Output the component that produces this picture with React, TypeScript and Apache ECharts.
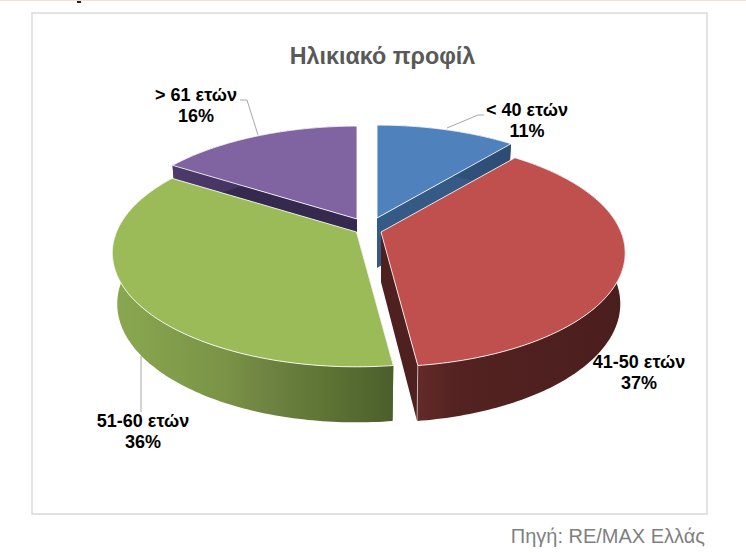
import React, { useEffect, useRef } from "react";
import * as echarts from "echarts";

const titleText = "Ηλικιακό προφίλ";
const sourceText = "Πηγή: RE/MAX Ελλάς";
const categories = ["< 40 ετών", "41-50 ετών", "51-60 ετών", "> 61 ετών"];
const shares = [11, 37, 36, 16];

// Appearance and layout of each slice, in slice order
const topColors = ["#4f81bd", "#c0504d", "#9bbb59", "#8064a2"];
const faceColors = ["#355a86", "#4e201f", "#5a7032", "#352a4e"];
const wallStops: [number, string][][] = [
  [[0, "#355a86"], [1, "#2c4c72"]],
  [[0, "#632a28"], [0.2, "#532221"], [1, "#4a1e1d"]],
  [[0, "#8aa850"], [0.4, "#7a9346"], [0.55, "#6f8342"], [0.75, "#5e7535"], [1, "#4c5e2c"]],
  [[0, "#4d3a6b"], [1, "#352a4e"]],
];
const apexes = [[377, 218], [381, 232], [356.5, 232], [357, 219]];
const paintOrder = [3, 0, 2, 1];
const labelPos = [[527, 110], [639, 362], [143, 421], [196, 95]];
const leaders = [
  [[447, 128], [478, 115], [484, 115]],
  null,
  [[141, 356], [141, 412]],
  [[258, 135], [247, 100], [240, 100]],
];

// Projection of the tilted disc
const RX = 240;
const KY = 110;
const PERSP = 0.184;
const DEPTH = 50;
const DEPTH_PERSP = 0.1;
const BOTTOM_NARROW = 0.98;

function project(apex: number[], deg: number) {
  const t = (deg * Math.PI) / 180;
  const X = Math.sin(t);
  const Y = -Math.cos(t);
  const s = 1 / (1 - PERSP * Y);
  const x = apex[0] + RX * X * s;
  const y = apex[1] + KY * Y * s;
  return {
    x,
    y,
    bx: apex[0] + (x - apex[0]) * BOTTOM_NARROW,
    by: y + DEPTH / (1 - DEPTH_PERSP * Y),
  };
}

function arc(apex: number[], a0: number, a1: number) {
  const n = Math.max(2, Math.ceil(a1 - a0));
  const pts = [];
  for (let i = 0; i <= n; i++) pts.push(project(apex, a0 + ((a1 - a0) * i) / n));
  return pts;
}

export default function App() {
  const ref = useRef<HTMLDivElement>(null);

  useEffect(() => {
    const chart = echarts.init(ref.current!, null, { renderer: "svg" });
    const total = shares.reduce((a, b) => a + b, 0);
    const starts: number[] = [];
    let acc = 0;
    shares.forEach((v) => {
      starts.push((acc / total) * 360);
      acc += v;
    });

    const renderSlice = (params: any, api: any) => {
      const i = params.dataIndex;
      const a0 = starts[i];
      const a1 = a0 + (api.value(0) / total) * 360;
      const apex = apexes[i];
      const rim = arc(apex, a0, a1);
      const top = [[apex[0], apex[1]], ...rim.map((p) => [p.x, p.y])];
      const wall = [
        ...rim.map((p) => [p.x, p.y]),
        ...rim.slice().reverse().map((p) => [p.bx, p.by]),
      ];
      const face = (p: any) => [
        [apex[0], apex[1]],
        [p.x, p.y],
        [p.bx, p.by],
        [apex[0], apex[1] + DEPTH],
      ];
      const first = rim[0];
      const last = rim[rim.length - 1];
      const children: any[] = [
        { type: "polygon", shape: { points: face(first) }, style: { fill: faceColors[i] } },
        { type: "polygon", shape: { points: face(last) }, style: { fill: faceColors[i] } },
        {
          type: "polygon",
          shape: { points: wall },
          style: {
            fill: {
              type: "linear", x: 0, y: 0, x2: 1, y2: 0,
              colorStops: wallStops[i].map(([offset, color]) => ({ offset, color })),
            },
          },
        },
      ];
      if (i === 1) {
        children.push({
          type: "line",
          shape: { x1: last.x, y1: last.y, x2: last.bx, y2: last.by },
          style: { stroke: "rgba(255,255,255,0.55)", lineWidth: 1 },
        });
      }
      children.push({
        type: "polygon",
        shape: { points: top },
        style: { fill: topColors[i], stroke: "rgba(255,255,255,0.85)", lineWidth: 1 },
      });
      return { type: "group", children };
    };

    const renderLabel = (params: any, api: any) => {
      const i = params.dataIndex;
      const pos = labelPos[i];
      const font = 'bold 18px "Liberation Sans", Arial, sans-serif';
      const children: any[] = [
        {
          type: "text",
          style: { text: categories[i], x: pos[0], y: pos[1], font, fill: "#000", align: "center", verticalAlign: "middle" },
        },
        {
          type: "text",
          style: { text: `${api.value(0)}%`, x: pos[0], y: pos[1] + 21, font, fill: "#000", align: "center", verticalAlign: "middle" },
        },
      ];
      const l = leaders[i];
      if (l) {
        children.push({
          type: "polyline",
          shape: { points: l },
          style: { stroke: "#a6a6a6", lineWidth: 1, fill: "none" },
        });
      }
      return { type: "group", children };
    };

    const order = paintOrder.map((i) => ({ value: shares[i], idx: i }));

    chart.setOption({
      animation: false,
      backgroundColor: "#ffffff",
      title: {
        text: titleText,
        left: 382.5,
        top: 44,
        padding: 0,
        textAlign: "center",
        textStyle: {
          fontFamily: '"Liberation Sans", Arial, sans-serif',
          fontWeight: "bold",
          fontSize: 23.3,
          color: "#595959",
        },
      },
      graphic: [
        { type: "rect", silent: true, shape: { x: 0, y: 0, width: 746, height: 1 }, style: { fill: "#f8e0cc" }, z: -2 },
        { type: "rect", silent: true, shape: { x: 77, y: 1, width: 4, height: 2 }, style: { fill: "#222" }, z: -2 },
        {
          type: "rect",
          silent: true,
          shape: { x: 32, y: 13, width: 675, height: 501 },
          style: { fill: "#fff", stroke: "#d9d9d9", lineWidth: 1.4 },
          z: -2,
        },
        {
          type: "text",
          silent: true,
          style: {
            text: sourceText,
            x: 705,
            y: 536,
            align: "right",
            verticalAlign: "middle",
            font: '20px "Liberation Sans", Arial, sans-serif',
            fill: "#7f7f7f",
          },
        },
      ],
      series: [
        ...order.map((o) => ({
          type: "custom",
          coordinateSystem: "none",
          silent: true,
          data: shares.map((v, j) => (j === o.idx ? [v] : [NaN])),
          renderItem: (params: any, api: any) =>
            params.dataIndex === o.idx ? renderSlice(params, api) : null,
        })),
        {
          type: "custom",
          coordinateSystem: "none",
          silent: true,
          data: shares.map((v) => [v]),
          renderItem: renderLabel,
        },
      ],
    });
    return () => chart.dispose();
  }, []);

  return (
    <div
      ref={ref}
      style={{ position: "absolute", left: 0, top: 0, width: 746, height: 553 }}
    />
  );
}
